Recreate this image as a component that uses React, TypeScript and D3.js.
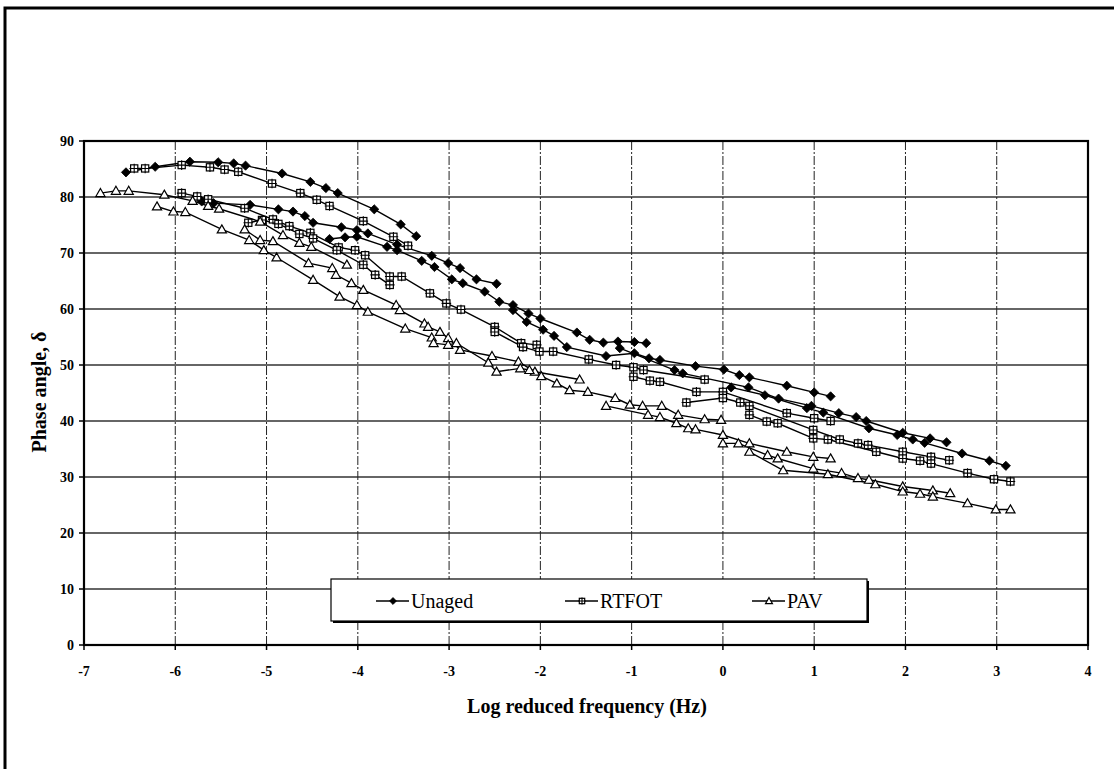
import React from "react";
import * as d3 from "d3";

type Pt = [number, number];

// x-axis ticks (log reduced frequency) and y-axis ticks (phase angle)
const xTicks = [-7, -6, -5, -4, -3, -2, -1, 0, 1, 2, 3, 4];
const yTicks = [0, 10, 20, 30, 40, 50, 60, 70, 80, 90];
const seriesNames = ["Unaged", "RTFOT", "PAV"];

// Unaged isotherm segments
const unaged1: Pt[] = [[-6.54,84.4],[-6.22,85.4],[-5.84,86.3],[-5.53,86.2],[-5.36,86.0],[-5.23,85.6],[-4.83,84.2],[-4.52,82.7],[-4.35,81.6],[-4.22,80.7],[-3.82,77.8],[-3.53,75.1],[-3.36,73.0]];
const unaged2: Pt[] = [[-5.71,79.2],[-5.58,78.9],[-5.18,78.6],[-4.87,77.8],[-4.71,77.4],[-4.58,76.6],[-4.49,75.4],[-4.18,74.6],[-4.01,74.1],[-3.89,73.5],[-3.57,71.5],[-3.19,69.5],[-3.01,68.2],[-2.88,67.3],[-2.70,65.3],[-2.48,64.5]];
const unaged3: Pt[] = [[-4.31,72.5],[-4.14,72.8],[-4.01,72.9],[-3.68,71.1],[-3.57,70.5],[-3.30,68.6],[-3.16,67.5],[-2.97,65.3],[-2.85,64.6],[-2.61,63.1],[-2.45,61.3],[-2.30,60.7],[-2.13,59.2],[-2.00,58.3],[-1.60,55.8],[-1.46,54.5],[-1.31,54.0],[-1.15,54.2],[-0.97,54.1],[-0.84,53.9]];
const unaged4: Pt[] = [[-2.30,59.8],[-2.15,57.7],[-1.97,56.3],[-1.85,55.2],[-1.71,53.2],[-1.28,51.6],[-0.97,52.1],[-0.81,51.2],[-0.69,50.9],[-0.30,49.8],[0.01,49.2],[0.18,48.2],[0.29,47.8],[0.70,46.3],[1.00,45.1],[1.18,44.4]];
const unaged5: Pt[] = [[-1.13,53.0],[-0.53,49.1],[-0.44,48.5],[0.28,46.0],[0.61,44.0],[0.97,42.7],[1.27,41.4],[1.46,40.7],[1.57,40.0],[1.97,37.9],[2.27,36.9],[2.45,36.2]];
const unaged6: Pt[] = [[0.09,46.0],[0.46,44.6],[0.92,42.3],[1.10,41.5],[1.60,38.7],[1.91,37.5],[2.08,36.7],[2.21,36.1],[2.62,34.2],[2.92,32.9],[3.10,32.0]];

// RTFOT isotherm segments
const rtfot1: Pt[] = [[-6.45,85.1],[-6.33,85.1],[-5.93,85.7],[-5.62,85.3],[-5.46,84.9],[-5.31,84.5],[-4.94,82.4],[-4.63,80.7],[-4.45,79.5],[-4.31,78.4],[-3.94,75.7],[-3.61,72.9],[-3.45,71.3]];
const rtfot2: Pt[] = [[-5.93,80.7],[-5.76,80.1],[-5.64,79.6],[-5.24,78.0],[-4.93,76.0],[-4.75,74.8],[-4.52,73.6],[-4.21,71.0],[-4.03,70.5],[-3.92,69.6],[-3.65,65.8],[-3.52,65.8],[-3.21,62.8],[-3.03,61.0],[-2.87,59.9],[-2.50,56.8],[-2.21,53.9],[-2.04,53.6]];
const rtfot3: Pt[] = [[-5.20,75.4],[-5.05,75.9],[-4.87,75.2],[-4.64,73.4],[-4.49,72.6],[-4.23,70.5],[-3.94,67.9],[-3.81,66.1],[-3.65,64.3]];
const rtfot4: Pt[] = [[-2.50,55.9],[-2.19,53.2],[-2.01,52.4],[-1.86,52.4],[-1.47,51.0],[-1.17,50.0],[-0.98,49.6],[-0.87,49.1],[-0.20,47.4]];
const rtfot5: Pt[] = [[-0.98,47.9],[-0.80,47.2],[-0.69,47.0],[-0.29,45.2],[0.00,45.2],[0.70,41.4],[1.00,40.5],[1.18,40.0]];
const rtfot6: Pt[] = [[-0.40,43.3],[0.00,44.1],[0.19,43.3],[0.29,42.7],[0.99,38.4],[1.28,36.7],[1.48,36.0],[1.59,35.7],[1.97,34.5],[2.28,33.6],[2.48,33.0]];
const rtfot7: Pt[] = [[0.29,41.1],[0.48,39.9],[0.60,39.6],[0.99,36.9],[1.15,36.7],[1.68,34.5],[1.97,33.3],[2.16,32.9],[2.28,32.4],[2.68,30.7],[2.97,29.6],[3.15,29.2]];

// PAV isotherm segments
const pav1: Pt[] = [[-6.82,80.7],[-6.65,81.1],[-6.51,81.1],[-6.12,80.4],[-5.81,79.3],[-5.64,78.4],[-5.52,77.9],[-5.07,75.6],[-4.82,73.2],[-4.64,71.8],[-4.51,71.1],[-4.12,67.9]];
const pav2: Pt[] = [[-6.20,78.3],[-6.02,77.4],[-5.89,77.3],[-5.49,74.2],[-5.19,72.3],[-5.03,70.5],[-4.89,69.2],[-4.49,65.2],[-4.20,62.2],[-4.01,60.7],[-3.89,59.5],[-3.48,56.5],[-3.19,54.9]];
const pav3: Pt[] = [[-5.24,74.2],[-5.07,72.3],[-4.93,72.1],[-4.54,68.2],[-4.28,67.3],[-4.24,66.1],[-4.07,64.6],[-3.94,63.4],[-3.58,60.7],[-3.54,59.8],[-3.27,57.4],[-3.23,56.8],[-3.10,55.9],[-3.01,54.8],[-2.88,52.7],[-2.53,51.6],[-2.24,50.6],[-2.06,48.8],[-1.57,47.4]];
const pav4: Pt[] = [[-3.17,53.9],[-3.01,53.6],[-2.92,53.9],[-2.57,50.4],[-2.48,48.8],[-2.22,49.4],[-2.12,49.1],[-1.99,48.0],[-1.82,46.7],[-1.68,45.5],[-1.48,45.2],[-1.18,44.1],[-1.02,42.9],[-0.88,42.7],[-0.67,42.7],[-0.49,41.1],[-0.20,40.3],[-0.02,40.2]];
const pav5: Pt[] = [[-1.28,42.7],[-0.82,41.1],[-0.69,40.7],[-0.51,39.6],[-0.38,38.7],[-0.30,38.5],[0.00,37.5],[0.29,36.0],[0.70,34.5],[0.99,33.6],[1.18,33.3]];
const pav6: Pt[] = [[0.00,36.0],[0.17,36.0],[0.49,33.9],[0.60,33.3],[0.99,31.5],[1.30,30.7],[1.48,29.8],[1.60,29.5],[1.97,28.3],[2.30,27.6],[2.49,27.1]];
const pav7: Pt[] = [[0.29,34.5],[0.66,31.2],[1.15,30.5],[1.67,28.7],[1.97,27.4],[2.16,27.0],[2.30,26.5],[2.68,25.3],[2.99,24.2],[3.15,24.2]];

const unagedSegments = [unaged1, unaged2, unaged3, unaged4, unaged5, unaged6];
const rtfotSegments = [rtfot1, rtfot2, rtfot3, rtfot4, rtfot5, rtfot6, rtfot7];
const pavSegments = [pav1, pav2, pav3, pav4, pav5, pav6, pav7];

const W = 1114;
const H = 769;
const plot = { left: 84, right: 1088, top: 141, bottom: 645 };
const FONT = "'Liberation Serif', 'Times New Roman', Times, serif";

type Kind = "diamond" | "square" | "triangle";

function Marker({ kind, x, y, k = 1 }: { kind: Kind; x: number; y: number; k?: number }) {
  if (kind === "diamond") {
    const r = 4.6 * k;
    return <path d={`M${x},${y - r}L${x + r},${y}L${x},${y + r}L${x - r},${y}Z`} fill="#000" stroke="#000" strokeWidth={0.8} />;
  }
  if (kind === "square") {
    const r = 3.6 * k;
    const e = 1.2 * k;
    return (
      <g>
        <rect x={x - r} y={y - r} width={2 * r} height={2 * r} fill="#fff" stroke="#000" strokeWidth={1.2} />
        <path d={`M${x - r - e},${y}H${x + r + e}M${x},${y - r - e}V${y + r + e}`} stroke="#000" strokeWidth={1.1} />
      </g>
    );
  }
  const s = 4.6 * k;
  return <path d={`M${x},${y - s}L${x + s},${y + s * 0.75}L${x - s},${y + s * 0.75}Z`} fill="#fff" stroke="#000" strokeWidth={1.2} />;
}

export default function App() {
  const x = d3.scaleLinear().domain([-7, 4]).range([plot.left, plot.right]);
  const y = d3.scaleLinear().domain([0, 90]).range([plot.bottom, plot.top]);
  const line = d3.line<Pt>().x((d) => x(d[0])).y((d) => y(d[1]));

  const groups: { segs: Pt[][]; kind: Kind }[] = [
    { segs: unagedSegments, kind: "diamond" },
    { segs: rtfotSegments, kind: "square" },
    { segs: pavSegments, kind: "triangle" },
  ];

  const legend = { x0: 331, x1: 867, y0: 579, y1: 621 };
  const legendItems: { name: string; kind: Kind; lx: number }[] = [
    { name: seriesNames[0], kind: "diamond", lx: 376 },
    { name: seriesNames[1], kind: "square", lx: 565 },
    { name: seriesNames[2], kind: "triangle", lx: 752 },
  ];

  return (
    <svg width={W} height={H} style={{ position: "fixed", left: 0, top: 0, background: "#fff" }} fontFamily={FONT}>
      <rect x={0} y={0} width={W} height={H} fill="#fff" />
      {/* outer frame */}
      <path d={`M5,${H}V8H${W}`} fill="none" stroke="#000" strokeWidth={3} />

      {/* horizontal gridlines */}
      {yTicks.filter((t) => t > 0 && t < 90).map((t) => (
        <line key={"h" + t} x1={plot.left} x2={plot.right} y1={y(t)} y2={y(t)} stroke="#333" strokeWidth={1.6} />
      ))}
      {/* vertical gridlines */}
      {xTicks.filter((t) => t > -7 && t < 4).map((t) => (
        <line key={"v" + t} x1={x(t)} x2={x(t)} y1={plot.top} y2={plot.bottom} stroke="#222" strokeWidth={1} strokeDasharray="9,2,2,2" />
      ))}

      {/* plot border */}
      <rect x={plot.left} y={plot.top} width={plot.right - plot.left} height={plot.bottom - plot.top} fill="none" stroke="#000" strokeWidth={2.2} />

      {/* ticks */}
      {yTicks.map((t) => (
        <line key={"yt" + t} x1={plot.left - 5} x2={plot.left} y1={y(t)} y2={y(t)} stroke="#000" strokeWidth={1.5} />
      ))}
      {xTicks.map((t) => (
        <line key={"xt" + t} x1={x(t)} x2={x(t)} y1={plot.bottom} y2={plot.bottom + 5} stroke="#000" strokeWidth={1.5} />
      ))}

      {/* tick labels */}
      {yTicks.map((t) => (
        <text key={"yl" + t} x={plot.left - 10} y={y(t)} dy="0.35em" textAnchor="end" fontSize={14} fontWeight="bold">{t}</text>
      ))}
      {xTicks.map((t) => (
        <text key={"xl" + t} x={x(t)} y={676} textAnchor="middle" fontSize={14} fontWeight="bold">{t}</text>
      ))}

      {/* axis titles */}
      <text x={587} y={713} textAnchor="middle" fontSize={20} fontWeight="bold">Log reduced frequency (Hz)</text>
      <text transform={`translate(46,392) rotate(-90)`} textAnchor="middle" fontSize={20} fontWeight="bold">Phase angle, δ</text>

      {/* series */}
      {groups.map((g, gi) => (
        <g key={"g" + gi}>
          {g.segs.map((seg, si) => (
            <path key={"l" + si} d={line(seg) || ""} fill="none" stroke="#000" strokeWidth={1.4} />
          ))}
          {g.segs.map((seg, si) =>
            seg.map((p, pi) => <Marker key={`m${si}-${pi}`} kind={g.kind} x={x(p[0])} y={y(p[1])} />)
          )}
        </g>
      ))}

      {/* legend */}
      <rect x={legend.x0 + 2} y={legend.y0 + 2} width={legend.x1 - legend.x0} height={legend.y1 - legend.y0} fill="#000" />
      <rect x={legend.x0} y={legend.y0} width={legend.x1 - legend.x0} height={legend.y1 - legend.y0} fill="#fff" stroke="#000" strokeWidth={1.2} />
      {legendItems.map((it) => (
        <g key={it.name}>
          <line x1={it.lx} x2={it.lx + 33} y1={601} y2={601} stroke="#000" strokeWidth={1.4} />
          <Marker kind={it.kind} x={it.lx + 17} y={601} k={0.75} />
          <text x={it.lx + 35} y={608} fontSize={20}>{it.name}</text>
        </g>
      ))}
    </svg>
  );
}
